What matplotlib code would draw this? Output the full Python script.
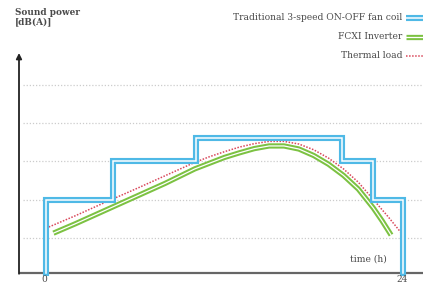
import matplotlib.pyplot as plt

# step levels of the ON-OFF fan coil
fan_t = [0, 0, 4.5, 4.5, 10.1, 10.1, 19.9, 19.9, 22.0, 22.0, 24, 24]
fan_v = [0.08, 2, 2, 3, 3, 3.6, 3.6, 3, 3, 2, 2, 0.08]

# thermal load (dotted red)
load_t = [0, 2, 4, 6, 8, 10, 11, 12, 13, 14, 15, 16, 17, 18, 19, 20, 21, 22, 23, 24]
load_v = [1.25, 1.58, 1.93, 2.27, 2.62, 2.97, 3.12, 3.25, 3.37, 3.46, 3.52, 3.52,
          3.45, 3.30, 3.08, 2.80, 2.45, 2.00, 1.55, 1.07]

# FCXI inverter (green)
inv_t = [0.5, 2, 4, 6, 8, 10, 11, 12, 13, 14, 15, 16, 17, 18, 19, 20, 21, 22, 22.6, 23.2]
inv_v = [1.12, 1.37, 1.72, 2.07, 2.42, 2.80, 2.95, 3.10, 3.22, 3.33, 3.40, 3.40,
         3.32, 3.15, 2.92, 2.63, 2.27, 1.78, 1.44, 1.07]

grid_levels = [1, 2, 3, 4, 5]
legend_labels = ['Traditional 3-speed ON-OFF fan coil', 'FCXI Inverter', 'Thermal load']

blue = '#4fb9e6'
green = '#7cc242'
red = '#d9475a'
txt = '#4a4a4a'

W, H = 423, 284
fig = plt.figure(figsize=(W / 100, H / 100), dpi=100)
ax = fig.add_axes([0, 0, 1, 1])
ax.set_xlim(-46 / 14.875, (W - 46) / 14.875)
ax.set_ylim((276 - H) / 38.25, 276 / 38.25)
ax.axis('off')

y0 = (276 - 273) / 38.25
xl = (19 - 46) / 14.875

for g in grid_levels:
    ax.plot([xl + 0.3, 26], [g, g], color='#cccccc', lw=0.9, ls=(0, (1, 1.5)))

# axes
ax.plot([xl, 26], [y0, y0], color='#666666', lw=1.6, solid_capstyle='butt')
ax.annotate('', xy=(xl, (276 - 53) / 38.25), xytext=(xl, y0 - 0.02),
            arrowprops=dict(arrowstyle='-|>', color='#222222', lw=1.3,
                            mutation_scale=8, shrinkA=0, shrinkB=0))

# curves
ax.plot(inv_t, inv_v, color=green, lw=3.8, solid_capstyle='butt')
ax.plot(inv_t, inv_v, color='white', lw=0.9)
ax.plot(load_t, load_v, color=red, lw=1.1, ls=(0, (1, 1)))
ax.plot(fan_t, fan_v, color=blue, lw=4.4, solid_joinstyle='miter')
ax.plot(fan_t, fan_v, color='white', lw=1.1, solid_joinstyle='miter')

# texts
def px(x, y):
    return x / W, 1 - y / H

font = dict(family='DejaVu Serif', color=txt)
fig.text(*px(15, 17), 'Sound power\n[dB(A)]', fontsize=6.4, fontweight='bold',
         va='center', ha='left', linespacing=0.95, **font)

ys = [18, 37, 56]
for lab, yy in zip(legend_labels, ys):
    fig.text(*px(402, yy), lab, fontsize=6.6, ha='right', va='center', **font)

lx0, lx1 = 406 / 14.875 - 46 / 14.875, 430 / 14.875 - 46 / 14.875
ly = [(276 - y) / 38.25 for y in ys]
ax.plot([lx0, lx1], [ly[0]] * 2, color=blue, lw=4.4, solid_capstyle='butt')
ax.plot([lx0, lx1], [ly[0]] * 2, color='white', lw=1.1)
ax.plot([lx0, lx1], [ly[1]] * 2, color=green, lw=3.8, solid_capstyle='butt')
ax.plot([lx0, lx1], [ly[1]] * 2, color='white', lw=0.9)
ax.plot([lx0, lx1], [ly[2]] * 2, color=red, lw=1.1, ls=(0, (1, 1)))

fig.text(*px(368, 259), 'time (h)', fontsize=6.6, ha='center', va='center', **font)
fig.text(*px(44, 279), '0', fontsize=6.5, ha='center', va='center', **font)
fig.text(*px(402, 279), '24', fontsize=6.5, ha='center', va='center', **font)

fig.savefig('out.png', dpi=100)
